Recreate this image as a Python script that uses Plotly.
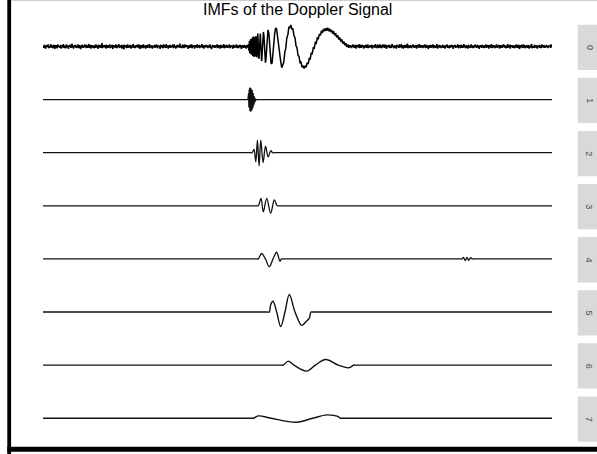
import plotly.graph_objects as go

W, H = 597, 454

TITLE = "IMFs of the Doppler Signal"
strip_labels = ["0", "1", "2", "3", "4", "5", "6", "7"]

# ---- observed signal (row "0"), sample index 0..1000 ----
# background noise before the Doppler burst, samples 0..402 (hundredths)
noise_left = [
    2, -3, 1, 4, -2, -5, 0, 3, -1, 2, 5, -4, -1, 1, -3, 6, 0, -2, 3, -4,
    -1, 4, 2, -6, 1, 0, 3, -2, -4, 5, 1, -1, 2, -3, 0, 4, -5, 3, 1, -2,
    6, -1, -3, 2, 0, -4, 5, 1, -2, 3, -6, 2, 0, 4, -1, -3, 1, 7, -2, 0,
    -5, 3, 2, -1, 4, -3, 0, 1, -2, 5, -4, 2, 3, -1, -6, 0, 2, 4, -3, 1,
    0, -2, 5, -1, 3, -4, 2, 1, -3, 0, 6, -2, -1, 4, -5, 1, 3, -2, 0, 2,
    -4, 1, 3, -3, 5, 0, -1, 2, -6, 4, 1, -2, 3, 0, -3, 2, 8, -4, 1, -1,
    3, -2, 0, 4, -5, 2, 1, -3, 3, -1, 0, 5, -4, 2, -2, 1, 4, -6, 0, 3,
    -1, 2, -3, 5, 1, -4, 0, 3, -2, 6, -1, -3, 2, 0, 4, -5, 1, 2, -2, -7,
    4, 0, -1, 3, -4, 2, 5, -3, 1, 0, -2, 4, -1, -5, 3, 1, -2, 6, 0, -3,
    2, -4, 1, 3, -2, 0, 5, -1, -3, 4, 2, -6, 1, 0, 3, -2, -1, 5, -4, 2,
    0, 3, -5, 1, 2, -3, 4, 0, -1, 6, -4, 2, -2, 1, 3, -5, 0, 2, -1, 4,
    -3, 1, 0, 5, -2, -4, 3, 1, -1, 2, -6, 4, 0, -2, 3, 1, -4, 5, -1, 0,
    2, -3, 6, -1, 0, 3, -5, 2, 1, -2, 4, -3, 0, 1, -1, 5, -4, 2, 3, -2,
    1, -5, 3, 0, -2, 4, -1, 2, -3, 7, -2, 0, 1, -4, 3, 2, -1, -3, 5, 0,
    -2, 4, -1, 1, 3, -6, 2, 0, -3, 4, 1, -2, 5, -4, 0, 2, -1, 3, -5, 1,
    3, 0, -2, 5, -3, 1, -1, 4, -4, 2, 0, -1, 6, -3, 2, 1, -5, 3, 0, -2,
    4, -1, 0, 2, -4, 3, -2, 1, 5, -3, 0, -6, 2, 4, -1, 1, -2, 3, -3, 0,
    2, -2, 5, -4, 1, 0, 3, -1, -5, 4, 2, -3, 0, 1, -2, 6, -4, 1, 3, -1,
    0, 4, -3, 2, -1, -2, 5, 1, -4, 3, 0, -1, 2, -5, 4, 1, -3, 0, 2, -2,
    5, -3, 1, 0, -4, 3, 2, -2, 4, -1, -6, 2, 1, 3, -3, 0, 4, -2, 1, -5,
    3, 1, -2,
]

# Doppler burst, high-frequency start (samples 403..433, half steps)
doppler_fast = [
    0.01, 0.06, -0.08, 0.10, -0.09, 0.13, -0.14, 0.12, -0.16, 0.17,
    -0.14, 0.18, -0.19, 0.16, -0.20, 0.21, -0.18, 0.22, -0.23, 0.20,
    0.02, 0.24, -0.02, -0.25, -0.05, 0.23, 0.16, -0.12, -0.24, -0.13,
    0.17, 0.25, 0.14, -0.15, -0.26, -0.23, 0.02, 0.20, 0.31, 0.18,
    -0.02, -0.22, -0.29, -0.28, -0.10, 0.06, 0.26, 0.30, 0.31, 0.15,
    0.02, -0.19, -0.27, -0.35, -0.32, -0.18, -0.07, 0.12, 0.22, 0.34,
    0.35,
]
# samples 434..463
doppler_mid = [
    0.27, -0.02, -0.23, -0.39, -0.31, -0.17, 0.10, 0.26, 0.40, 0.36,
    0.29, 0.08, -0.11, -0.25, -0.40, -0.41, -0.40, -0.27, -0.17, 0.02,
    0.14, 0.30, 0.37, 0.45, 0.43, 0.42, 0.32, 0.26, 0.11, 0.01,
]
# samples 465..603, every second sample
doppler_slow = [
    -0.27, -0.36, -0.51, -0.41, -0.38, -0.14, -0.04, 0.21, 0.28, 0.46,
    0.45, 0.53, 0.42, 0.42, 0.26, 0.22, 0.02, -0.03, -0.21, -0.24,
    -0.39, -0.38, -0.50, -0.46, -0.53, -0.46, -0.50, -0.39, -0.42, -0.29,
    -0.30, -0.16, -0.17, -0.03, -0.04, 0.10, 0.08, 0.21, 0.19, 0.30,
    0.27, 0.38, 0.33, 0.42, 0.37, 0.44, 0.38, 0.45, 0.37, 0.43,
    0.35, 0.40, 0.31, 0.37, 0.27, 0.32, 0.22, 0.27, 0.17, 0.22,
    0.12, 0.17, 0.07, 0.12, 0.03, 0.08, -0.01, 0.05, -0.03, 0.03,
]

# background noise after the burst, samples 604..1000 (hundredths)
noise_right = [
    -1, 3, -4, 2, 0, 5, -2, 1, -3, 4, -1, -5, 2, 1, 3, -2, 0, 6, -4, 1,
    2, -3, 0, 4, -1, 2, -5, 3, 1, -2, 0, 4, -3, 1, 5, -4, 2, -1, 0, 3,
    -2, 1, 4, -5, 0, 2, -1, 3, -3, 6, -2, 1, 0, -4, 3, 2, -1, -3, 5, 0,
    1, -4, 2, 3, -2, 0, 5, -3, 1, -1, 4, -6, 2, 0, 3, -2, 1, 4, -4, 2,
    -3, 0, 6, -1, 2, -4, 1, 3, -2, 0, -5, 4, 1, -1, 2, -3, 5, 0, -2, 3,
    4, -2, -1, 3, -5, 1, 2, 0, -3, 4, 1, -2, 7, -4, 0, 2, -1, -3, 3, 1,
    -4, 2, 0, 5, -1, -3, 2, 1, -2, 4, -5, 3, 0, 1, -2, 6, -3, 1, 2, -1,
    0, 3, -4, 1, 2, -2, 5, -1, -3, 0, 4, -2, 1, -6, 3, 2, -1, 0, 4, -3,
    2, -1, 5, -4, 0, 3, -2, 1, -3, 2, 6, -5, 1, 0, -1, 4, -2, 3, -4, 1,
    -2, 4, 1, -3, 0, 2, -5, 3, 1, -1, 5, -3, 0, 2, -4, 1, 3, -2, 0, 4,
    -1, 2, -6, 3, 1, 0, 4, -3, 2, -2, 1, 5, -4, 0, 3, -1, -2, 4, -3, 2,
    1, -3, 0, 6, -2, 2, -4, 1, 3, -1, 0, -5, 4, 2, -2, 1, -3, 5, 0, -1,
    3, -4, 2, 0, -2, 5, -1, 1, -3, 4, 0, -2, 3, -6, 2, 1, -1, 4, -3, 0,
    2, 1, -4, 3, -1, 0, 5, -3, 2, -2, 4, -1, -5, 3, 0, 1, -2, 6, -4, 2,
    0, -2, 3, 1, -4, 2, -1, 5, -3, 0, 2, -2, 4, -5, 1, 3, -1, 0, -3, 4,
    -1, 5, -2, 0, 3, -4, 1, 2, -3, 6, -1, 0, -2, 4, -5, 2, 1, -1, 3, -3,
    2, 0, -4, 3, 1, -2, 5, -1, 0, -3, 4, 2, -6, 1, 3, -2, 0, 4, -1, -3,
    5, -2, 1, 0, -4, 3, -1, 2, -3, 4, 0, -5, 2, 1, -2, 3, 6, -4, 0, 1,
    -3, 2, 4, -1, 0, -2, 3, -5, 1, 2, -1, 4, -3, 0, 2, -4, 5, -1, 1, -2,
    3, 0, -3, 2, -1, 4, -2, 1, -4, 3, 0, 2, -1, -3, 5, 1, -2,
]

# ---- intrinsic mode functions 1..7 ----
imf1_x = [0, 402.5] + [403 + 0.5 * i for i in range(33)] + [1000]
imf1_y = [0, 0,
          0.05, -0.10, 0.15, -0.19, 0.22, -0.25, 0.27, -0.28, 0.29, -0.28,
          0.28, -0.27, 0.27, -0.26, 0.25, -0.24, 0.23, -0.21, 0.20, -0.18,
          0.16, -0.14, 0.12, -0.10, 0.08, -0.07, 0.05, -0.04, 0.03, -0.02,
          0.01, -0.01, 0.0,
          0]

imf2_x = [0, 408, 411, 414.6, 418, 421.3, 424.5, 427.9, 432.4, 437.2, 442.3, 447.6, 451, 455, 1000]
imf2_y = [0, 0, 0, 0.08, -0.22, 0.30, -0.32, 0.30, -0.24, 0.16, -0.10, 0.05, 0, 0, 0]

imf3_x = [0, 420, 423, 428.3, 432.8, 439.5, 447.3, 454.4, 460.3, 464, 1000]
imf3_y = [0, 0, 0, 0.18, -0.145, 0.18, -0.18, 0.14, 0, 0, 0]

imf4_x = [0, 420, 423, 429.6, 437, 444.6, 452, 459.1, 465.6, 468.5, 472,
          820, 823, 826, 829.5, 833, 836.5, 840, 843, 846, 1000]
imf4_y = [0, 0, 0, 0.13, 0, -0.19, 0, 0.16, -0.056, 0, 0,
          0, 0, 0.035, -0.035, 0.035, -0.035, 0.03, 0, 0, 0]

imf5_x = [0, 441, 444.6, 447.4, 451.9, 459.1, 467.0, 475.4, 483.9, 495.1, 508.2, 516, 523.2, 526.5, 530, 1000]
imf5_y = [0, 0, 0, 0.18, 0.26, 0, -0.35, 0, 0.42, 0, -0.32, -0.24, -0.145, 0, 0, 0]

imf6_x = [0, 468, 472.1, 481.9, 493, 518.1, 535, 555.4, 580, 599.8, 606, 610, 614, 1000]
imf6_y = [0, 0, 0, 0.096, 0, -0.145, 0, 0.137, 0, -0.065, -0.035, 0, 0, 0]

imf7_x = [0, 410, 413.2, 423, 448, 498.4, 530, 557.4, 572, 580.2, 583.5, 587, 1000]
imf7_y = [0, 0, 0, 0.056, 0, -0.097, 0, 0.08, 0.065, 0.04, 0, 0, 0]

# ---- assemble the observed signal ----
signal_x = (list(range(0, 403))
            + [403 + 0.5 * i for i in range(len(doppler_fast))]
            + list(range(434, 434 + len(doppler_mid)))
            + list(range(465, 465 + 2 * len(doppler_slow), 2))
            + list(range(604, 604 + len(noise_right))))
signal_y = ([v / 100 for v in noise_left] + doppler_fast + doppler_mid
            + doppler_slow + [v / 100 for v in noise_right])
assert len(signal_x) == len(signal_y)

rows = [
    (signal_x, signal_y, "linear", "#000000", 1.5),
    (imf1_x, imf1_y, "linear", "#111111", 1.3),
    (imf2_x, imf2_y, "spline", "#111111", 1.3),
    (imf3_x, imf3_y, "spline", "#111111", 1.3),
    (imf4_x, imf4_y, "spline", "#111111", 1.3),
    (imf5_x, imf5_y, "spline", "#111111", 1.4),
    (imf6_x, imf6_y, "spline", "#111111", 1.4),
    (imf7_x, imf7_y, "spline", "#111111", 1.4),
]

fig = go.Figure()
axes = {}
shapes = []
annotations = []

PANEL_TOP, PITCH, PANEL_H = 24.7, 53.1, 45.3
X_DOMAIN = [43 / W, 552 / W]
Y_RANGE = [-0.565, 0.525]

for k, (xs, ys, shape, color, width) in enumerate(rows):
    top = PANEL_TOP + PITCH * k
    bot = top + PANEL_H
    y0, y1 = 1 - bot / H, 1 - top / H
    sfx = "" if k == 0 else str(k + 1)
    axes[f"xaxis{sfx}"] = dict(domain=X_DOMAIN, range=[0, 1000], visible=False,
                               anchor=f"y{sfx}", fixedrange=True)
    axes[f"yaxis{sfx}"] = dict(domain=[y0, y1], range=Y_RANGE, visible=False,
                               anchor=f"x{sfx}", fixedrange=True)
    fig.add_trace(go.Scatter(
        x=xs, y=ys, mode="lines", xaxis=f"x{sfx}", yaxis=f"y{sfx}",
        line=dict(color=color, width=width, shape=shape),
        hoverinfo="skip", showlegend=False,
    ))
    # facet strip on the right
    shapes.append(dict(type="rect", xref="paper", yref="paper",
                       x0=577.7 / W, x1=1.01, y0=y0, y1=y1,
                       fillcolor="#d9d9d9", line=dict(width=0), layer="below"))
    annotations.append(dict(xref="paper", yref="paper", x=589.3 / W, y=(y0 + y1) / 2,
                            text=strip_labels[k], showarrow=False, textangle=90,
                            xanchor="center", yanchor="middle",
                            font=dict(family="Liberation Sans, Arial, sans-serif",
                                      size=9, color="#4d4d4d")))

# title
annotations.append(dict(xref="paper", yref="paper", x=297.5 / W, y=1 - 9.5 / H,
                        text=TITLE, showarrow=False, xanchor="center", yanchor="middle",
                        font=dict(family="Liberation Sans, Arial, sans-serif",
                                  size=16, color="#000000")))

# outer frame: heavy left and bottom edges, faint top edge
shapes.append(dict(type="line", xref="paper", yref="paper",
                   x0=9.2 / W, x1=9.2 / W, y0=0, y1=1,
                   line=dict(color="#000000", width=3.8)))
shapes.append(dict(type="line", xref="paper", yref="paper",
                   x0=7.3 / W, x1=1.0, y0=1 - 449.2 / H, y1=1 - 449.2 / H,
                   line=dict(color="#000000", width=5)))
shapes.append(dict(type="line", xref="paper", yref="paper",
                   x0=11 / W, x1=1.0, y0=1 - 0.5 / H, y1=1 - 0.5 / H,
                   line=dict(color="#cfcfcf", width=1)))

fig.update_layout(
    width=W, height=H,
    margin=dict(l=0, r=0, t=0, b=0),
    paper_bgcolor="#ffffff", plot_bgcolor="rgba(0,0,0,0)",
    showlegend=False,
    shapes=shapes, annotations=annotations,
    **axes,
)

fig.write_html("out.html")
